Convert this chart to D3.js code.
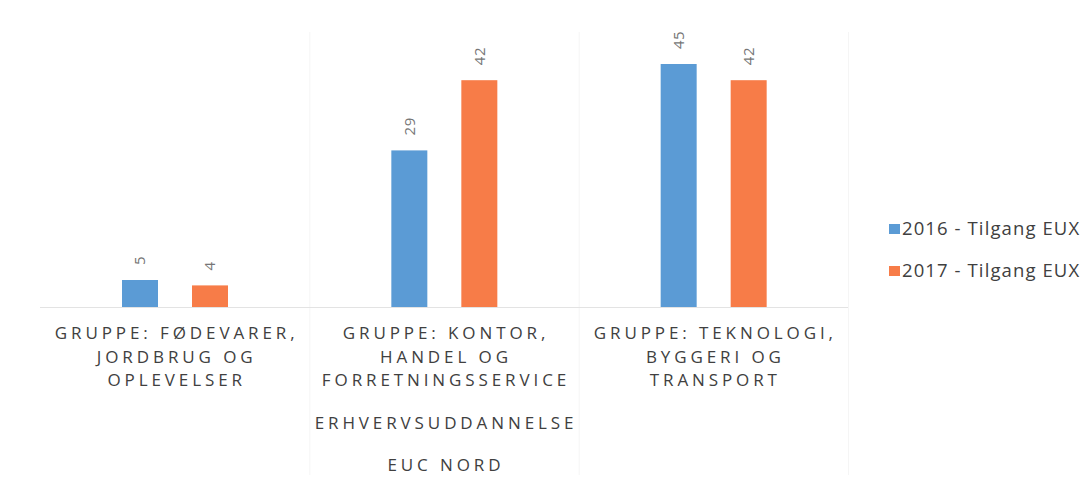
<!DOCTYPE html>
<html>
<head>
<meta charset="utf-8">
<script src="https://cdn.jsdelivr.net/npm/d3@7"></script>
<style>
  html, body { margin: 0; padding: 0; background: #fff; }
</style>
</head>
<body>
<script>
// --- data ---
const categories = [
  "GRUPPE: FØDEVARER, JORDBRUG OG OPLEVELSER",
  "GRUPPE: KONTOR, HANDEL OG FORRETNINGSSERVICE",
  "GRUPPE: TEKNOLOGI, BYGGERI OG TRANSPORT",
];
const categoryLines = [
  ["GRUPPE: FØDEVARER,", "JORDBRUG OG", "OPLEVELSER"],
  ["GRUPPE: KONTOR,", "HANDEL OG", "FORRETNINGSSERVICE"],
  ["GRUPPE: TEKNOLOGI,", "BYGGERI OG", "TRANSPORT"],
];
const groupLabels = ["ERHVERVSUDDANNELSE", "EUC NORD"];
const seriesNames = ["2016 - Tilgang EUX", "2017 - Tilgang EUX"];
const values2016 = [5, 29, 45];
const values2017 = [4, 42, 42];
const colors = ["#5b9bd5", "#f77c48"];

const width = 1086;
const height = 485;
const margin = { top: 37, right: 238, bottom: 178, left: 40 };

const svg = d3.select("body")
  .append("svg")
  .attr("width", width)
  .attr("height", height)
  .style("font-family", "'Open Sans', Lato, sans-serif");

svg.append("rect").attr("width", width).attr("height", height).attr("fill", "white");

const x0 = d3.scaleBand()
  .domain(categories)
  .range([margin.left, width - margin.right]);

// two bars of ~36px with a ~34px gap inside each 269px category band
const x1 = d3.scaleBand()
  .domain(seriesNames)
  .range([82, 188])
  .paddingInner(34 / 70);

const y = d3.scaleLinear()
  .domain([0, 50])
  .range([height - margin.bottom, margin.top]);

const rows = categories.map((c, i) => ({
  cat: c,
  vals: [
    { s: seriesNames[0], v: values2016[i], c: colors[0] },
    { s: seriesNames[1], v: values2017[i], c: colors[1] },
  ],
}));

// faint category separators
const sepX = [x0(categories[1]), x0(categories[2]), x0(categories[2]) + x0.bandwidth()];
svg.append("g")
  .selectAll("line")
  .data(sepX)
  .join("line")
  .attr("x1", (d) => d + 0.5)
  .attr("x2", (d) => d + 0.5)
  .attr("y1", margin.top - 5)
  .attr("y2", height - 10)
  .attr("stroke", "#f5f5f5")
  .attr("stroke-width", 1);

// baseline
svg.append("line")
  .attr("x1", margin.left)
  .attr("x2", width - margin.right)
  .attr("y1", y(0) + 0.5)
  .attr("y2", y(0) + 0.5)
  .attr("stroke", "#e3e3e3")
  .attr("stroke-width", 1);

const g = svg.append("g")
  .selectAll("g")
  .data(rows)
  .join("g")
  .attr("transform", (d) => `translate(${x0(d.cat)},0)`);

g.selectAll("rect")
  .data((d) => d.vals)
  .join("rect")
  .attr("x", (d) => x1(d.s))
  .attr("y", (d) => y(d.v))
  .attr("width", x1.bandwidth())
  .attr("height", (d) => y(0) - y(d.v))
  .attr("fill", (d) => d.c);

g.selectAll("text")
  .data((d) => d.vals)
  .join("text")
  .attr("transform", (d) => `translate(${x1(d.s) + x1.bandwidth() / 2},${y(d.v) - 15}) rotate(-90)`)
  .attr("text-anchor", "start")
  .attr("dy", "0.36em")
  .attr("font-size", 15)
  .attr("letter-spacing", "0.5px")
  .attr("fill", "#767676")
  .text((d) => d.v);

// category labels (multi-line, letter-spaced)
const catText = svg.append("g")
  .selectAll("text")
  .data(categories)
  .join("text")
  .attr("text-anchor", "middle")
  .attr("font-size", 17)
  .attr("letter-spacing", "3.9px")
  .attr("fill", "#404040");

catText.each(function (d, i) {
  const t = d3.select(this);
  categoryLines[i].forEach((line, j) => {
    t.append("tspan")
      .attr("x", x0(d) + x0.bandwidth() / 2 + 2)
      .attr("y", 339 + j * 23.5)
      .text(line);
  });
});

// group labels
svg.append("g")
  .selectAll("text")
  .data(groupLabels)
  .join("text")
  .attr("x", x0(categories[1]) + x0.bandwidth() / 2 + 2)
  .attr("y", (d, i) => 429 + i * 42)
  .attr("text-anchor", "middle")
  .attr("font-size", 17)
  .attr("letter-spacing", "3.9px")
  .attr("fill", "#404040")
  .text((d) => d);

// legend
const legend = svg.append("g")
  .selectAll("g")
  .data(seriesNames)
  .join("g")
  .attr("transform", (d, i) => `translate(889,${224 + i * 42})`);

legend.append("rect")
  .attr("width", 11)
  .attr("height", 10)
  .attr("fill", (d, i) => colors[i]);

legend.append("text")
  .attr("x", 13)
  .attr("y", 11)
  .attr("font-size", 18.5)
  .attr("letter-spacing", "1.1px")
  .attr("fill", "#404040")
  .text((d) => d);
</script>
</body>
</html>
